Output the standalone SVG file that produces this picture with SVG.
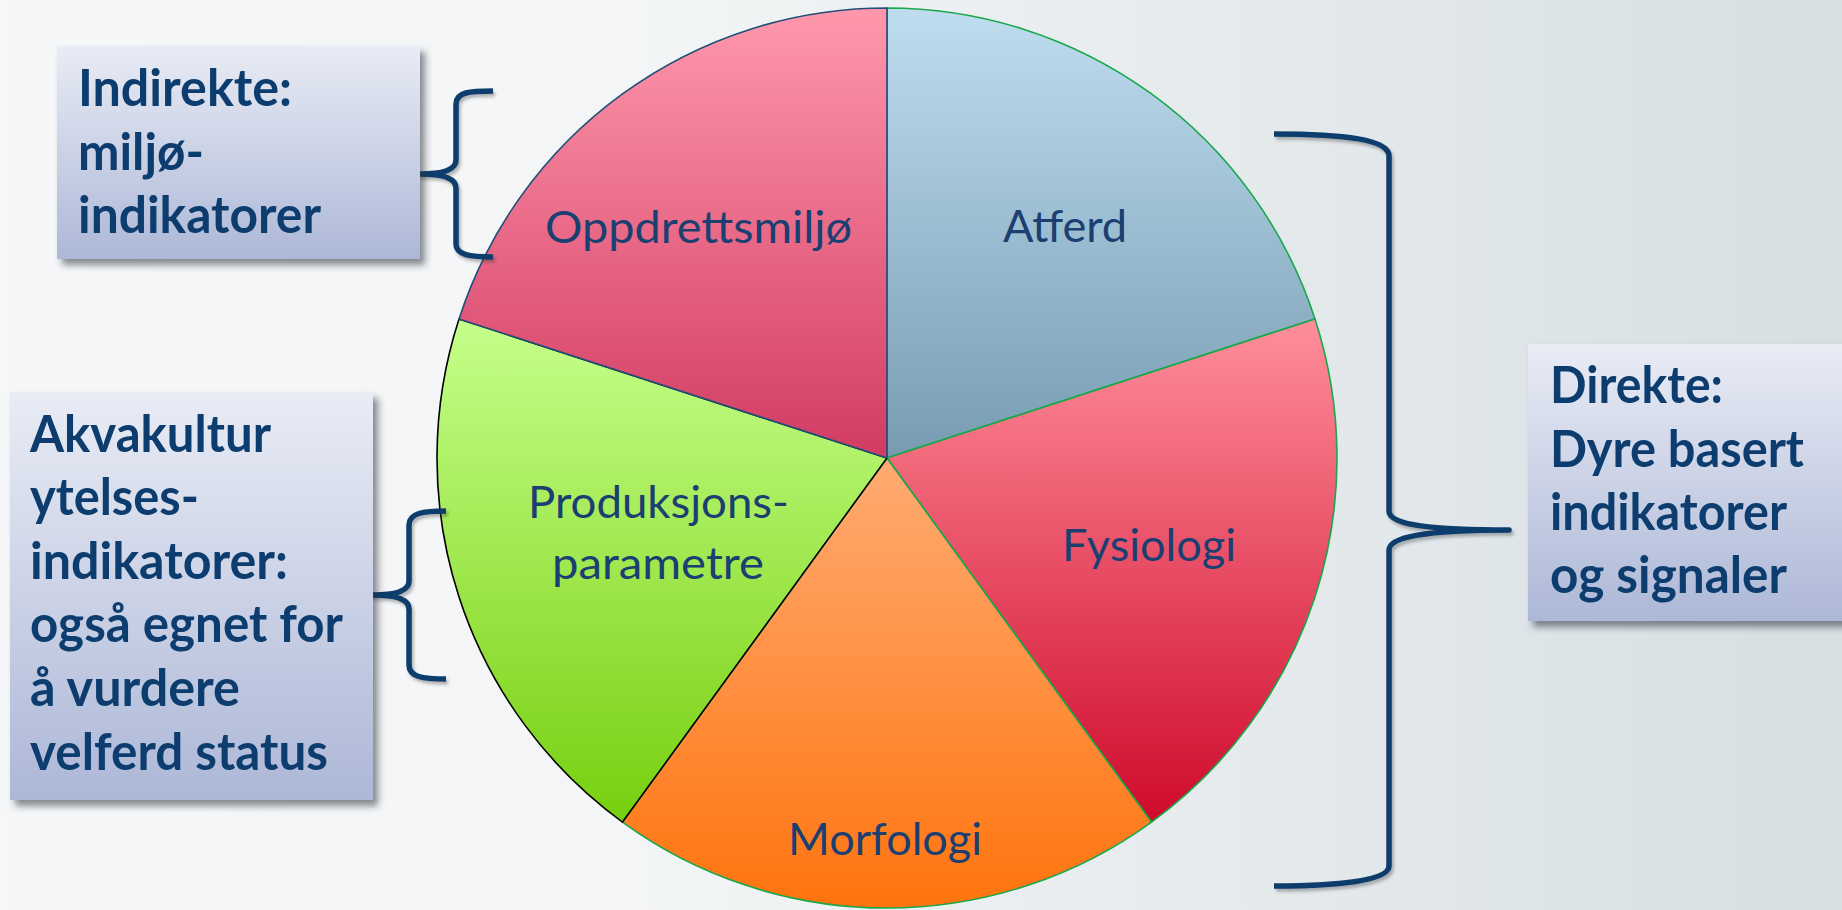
<svg xmlns="http://www.w3.org/2000/svg" width="1842" height="910" viewBox="0 0 1842 910">
<defs>
<linearGradient id="bg" x1="0" y1="0" x2="1" y2="0">
<stop offset="0" stop-color="#f6f7f8"/>
<stop offset="0.35" stop-color="#f3f5f6"/>
<stop offset="1" stop-color="#d7dfe3"/>
</linearGradient>
<linearGradient id="box" x1="0" y1="0" x2="0" y2="1">
<stop offset="0" stop-color="#e9ecf5"/>
<stop offset="1" stop-color="#adb8d7"/>
</linearGradient>
<linearGradient id="gAt" x1="0" y1="0" x2="0" y2="1">
<stop offset="0" stop-color="#bfddef"/>
<stop offset="1" stop-color="#779cb2"/>
</linearGradient>
<linearGradient id="gFy" x1="0" y1="0" x2="0" y2="1">
<stop offset="0" stop-color="#ff8e9b"/>
<stop offset="1" stop-color="#cf0a2c"/>
</linearGradient>
<linearGradient id="gMo" x1="0" y1="0" x2="0" y2="1">
<stop offset="0" stop-color="#ffab73"/>
<stop offset="1" stop-color="#ff740e"/>
</linearGradient>
<linearGradient id="gPr" x1="0" y1="0" x2="0" y2="1">
<stop offset="0" stop-color="#c5ff8b"/>
<stop offset="1" stop-color="#77cf0f"/>
</linearGradient>
<linearGradient id="gOp" x1="0" y1="0" x2="0" y2="1">
<stop offset="0" stop-color="#ff98ac"/>
<stop offset="1" stop-color="#d23b63"/>
</linearGradient>
<filter id="sh" x="-10%" y="-10%" width="130%" height="130%">
<feDropShadow dx="5" dy="6" stdDeviation="3.5" flood-color="#2a2f3a" flood-opacity="0.55"/>
</filter>
<filter id="bsh" x="-20%" y="-5%" width="140%" height="110%">
<feDropShadow dx="2" dy="3" stdDeviation="1.5" flood-color="#333" flood-opacity="0.35"/>
</filter>
</defs>
<style>
.slice{stroke-width:1.6;stroke-linejoin:round}
.pl{font-family:Lato,"Open Sans","Liberation Sans",sans-serif;font-size:45px;fill:#1a3f70;text-anchor:start}
.bt{font-family:Lato,"Open Sans","Liberation Sans",sans-serif;font-size:52px;font-weight:bold;fill:#0c3d6e}
.brace{fill:none;stroke:#0d3d6c;stroke-width:5.5;stroke-linecap:butt;stroke-linejoin:round}
</style>
<rect x="0" y="0" width="1842" height="910" fill="url(#bg)"/>

<g id="pie">
<g id="atferd">
<path class="slice" d="M887,458 L887,8 A450,450 0 0 1 1314.98,318.94 Z" fill="url(#gAt)" stroke="#18a84a"/>
<text class="pl" x="1003" y="242" textLength="124" lengthAdjust="spacingAndGlyphs">Atferd</text>
</g>
<g id="fysiologi">
<path class="slice" d="M887,458 L1314.98,318.94 A450,450 0 0 1 1151.5,822.06 Z" fill="url(#gFy)" stroke="#18a84a"/>
<text class="pl" x="1062" y="561" textLength="174" lengthAdjust="spacingAndGlyphs">Fysiologi</text>
</g>
<g id="morfologi">
<path class="slice" d="M887,458 L1151.5,822.06 A450,450 0 0 1 622.5,822.06 Z" fill="url(#gMo)" stroke="#18a84a"/>
<text class="pl" x="788" y="855" textLength="194" lengthAdjust="spacingAndGlyphs">Morfologi</text>
</g>
<g id="produksjon">
<path class="slice" d="M887,458 L622.5,822.06 A450,450 0 0 1 459.02,318.94 Z" fill="url(#gPr)" stroke="#000"/>
<text class="pl" x="528" y="518" textLength="261" lengthAdjust="spacingAndGlyphs">Produksjons-</text>
<text class="pl" x="552" y="579" textLength="212" lengthAdjust="spacingAndGlyphs">parametre</text>
</g>
<g id="oppdrett">
<path class="slice" d="M887,458 L459.02,318.94 A450,450 0 0 1 887,8 Z" fill="url(#gOp)" stroke="#1f4e79"/>
<text class="pl" x="545" y="243" textLength="307" lengthAdjust="spacingAndGlyphs">Oppdrettsmiljø</text>
</g>
</g>

<g id="connectors">
<path class="brace" filter="url(#bsh)" d="M493,91 C470,91 456,92 456,104 L456,160 C456,170 442,174 420,174 C442,174 456,178 456,188 L456,244 C456,255 470,257 493,257"/>
<path class="brace" filter="url(#bsh)" d="M446,511 C423,511 409,513 409,525 L409,581 C409,591 395,595 373,595 C395,595 409,599 409,609 L409,665 C409,677 423,679 446,679"/>
<path class="brace" filter="url(#bsh)" d="M1274,134 C1345,134 1389,140 1389,156 L1389,511 C1389,524 1425,530 1509,530 C1425,530 1389,537 1389,550 L1389,866 C1389,880 1345,886 1274,886"/>
</g>

<g id="box-indirekte">
<rect x="57" y="46" width="363" height="213" fill="url(#box)" filter="url(#sh)"/>
<text class="bt" x="78" y="106" textLength="214" lengthAdjust="spacingAndGlyphs">Indirekte:</text>
<text class="bt" x="78" y="170" textLength="126" lengthAdjust="spacingAndGlyphs">miljø-</text>
<text class="bt" x="78" y="233" textLength="243" lengthAdjust="spacingAndGlyphs">indikatorer</text>
</g>

<g id="box-akvakultur">
<rect x="10" y="392" width="363" height="408" fill="url(#box)" filter="url(#sh)"/>
<text class="bt" x="30" y="452" textLength="241" lengthAdjust="spacingAndGlyphs">Akvakultur</text>
<text class="bt" x="30" y="515" textLength="169" lengthAdjust="spacingAndGlyphs">ytelses-</text>
<text class="bt" x="30" y="579" textLength="258" lengthAdjust="spacingAndGlyphs">indikatorer:</text>
<text class="bt" x="30" y="642" textLength="313" lengthAdjust="spacingAndGlyphs">også egnet for</text>
<text class="bt" x="30" y="706" textLength="210" lengthAdjust="spacingAndGlyphs">å vurdere</text>
<text class="bt" x="30" y="770" textLength="298" lengthAdjust="spacingAndGlyphs">velferd status</text>
</g>

<g id="box-direkte">
<rect x="1528" y="344" width="330" height="277" fill="url(#box)" filter="url(#sh)"/>
<text class="bt" x="1550" y="403" textLength="173" lengthAdjust="spacingAndGlyphs">Direkte:</text>
<text class="bt" x="1550" y="467" textLength="254" lengthAdjust="spacingAndGlyphs">Dyre basert</text>
<text class="bt" x="1550" y="530" textLength="237" lengthAdjust="spacingAndGlyphs">indikatorer</text>
<text class="bt" x="1550" y="593" textLength="237" lengthAdjust="spacingAndGlyphs">og signaler</text>
</g>
</svg>
